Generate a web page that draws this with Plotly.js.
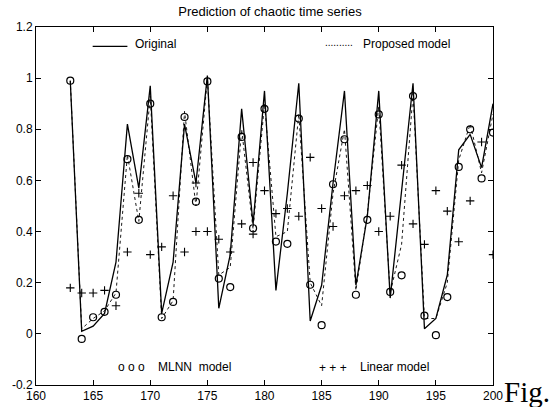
<!DOCTYPE html>
<html>
<head>
<meta charset="utf-8">
<script src="https://cdn.plot.ly/plotly-3.0.1.min.js"></script>
<style>html,body{margin:0;padding:0;background:#fff;}#chart{width:559px;height:407px;}</style>
</head>
<body>
<div id="chart"></div>
<script>
// time steps
var steps = [163,164,165,166,167,168,169,170,171,172,173,174,175,176,177,178,179,180,181,182,183,184,185,186,187,188,189,190,191,192,193,194,195,196,197,198,199,200];
// original series (solid)
var original = [0.99,0.01,0.03,0.08,0.28,0.82,0.57,0.97,0.08,0.28,0.82,0.59,1.01,0.10,0.31,0.88,0.43,0.95,0.17,0.55,0.98,0.05,0.19,0.59,0.95,0.19,0.46,0.95,0.14,0.55,0.98,0.02,0.06,0.23,0.72,0.78,0.65,0.90];
// proposed model (dotted)
var proposed = [0.99,0.02,0.06,0.09,0.16,0.70,0.44,0.93,0.06,0.13,0.87,0.50,1.00,0.23,0.26,0.80,0.41,0.90,0.38,0.40,0.86,0.20,0.11,0.55,0.80,0.17,0.47,0.89,0.16,0.35,0.94,0.06,0.06,0.20,0.68,0.82,0.63,0.86];
// MLNN model (circles)
var mlnn = [0.99,-0.02,0.065,0.086,0.153,0.683,0.446,0.90,0.065,0.125,0.848,0.517,0.987,0.216,0.183,0.77,0.413,0.88,0.361,0.352,0.842,0.192,0.034,0.585,0.761,0.153,0.446,0.858,0.164,0.229,0.93,0.071,-0.005,0.144,0.653,0.80,0.608,0.787];
// linear model (pluses)
var linSteps = [163,164,165,166,167,168,169,170,171,172,173,174,174,175,176,177,178,179,179,180,181,182,183,184,185,186,187,188,189,190,191,192,193,194,195,196,197,198,199,200];
var linear = [0.18,0.16,0.16,0.17,0.11,0.32,0.55,0.31,0.34,0.54,0.32,0.59,0.40,0.40,0.37,0.32,0.43,0.67,0.39,0.56,0.47,0.49,0.46,0.69,0.49,0.42,0.54,0.56,0.58,0.40,0.46,0.66,0.43,0.35,0.56,0.48,0.36,0.52,0.75,0.31];
// tick labels
var xTicks = [160,165,170,175,180,185,190,195,200];
var yTicks = [-0.2,0,0.2,0.4,0.6,0.8,1,1.2];
var yTickText = ['-0.2','0','0.2','0.4','0.6','0.8','1','1.2'];

var traces = [
  {x: steps, y: original, mode: 'lines', line: {color: '#000', width: 1.3}, name: 'Original'},
  {x: steps, y: proposed, mode: 'lines', line: {color: '#000', width: 0.9, dash: 'dot'}, name: 'Proposed model'},
  {x: steps, y: mlnn, mode: 'markers', marker: {symbol: 'circle-open', size: 7, color: '#000', line: {width: 1.2, color: '#000'}}, name: 'MLNN model'},
  {x: linSteps, y: linear, mode: 'markers', marker: {symbol: 'cross-thin-open', size: 6, color: '#000', line: {width: 1.1, color: '#000'}}, name: 'Linear model'}
];

var axisFont = {family: 'Liberation Sans, Arial, sans-serif', size: 12, color: '#000'};
var layout = {
  width: 559, height: 407,
  margin: {l: 36, r: 66, t: 27, b: 22},
  paper_bgcolor: '#fff', plot_bgcolor: '#fff',
  showlegend: false,
  title: {text: 'Prediction of chaotic time series', font: {family: 'Liberation Sans, Arial, sans-serif', size: 13, color: '#000'}, x: 0.483, xanchor: 'center', y: 0.972, yanchor: 'middle'},
  xaxis: {range: [160, 200], tickvals: xTicks, ticktext: xTicks.map(String), ticks: 'inside', ticklen: 5, tickcolor: '#000',
          showline: true, linecolor: '#000', linewidth: 1, mirror: 'ticks', showgrid: false, zeroline: false, tickfont: axisFont},
  yaxis: {range: [-0.2, 1.2], tickvals: yTicks, ticktext: yTickText, ticks: 'inside', ticklen: 5, tickcolor: '#000',
          showline: true, linecolor: '#000', linewidth: 1, mirror: 'ticks', showgrid: false, zeroline: false, tickfont: axisFont},
  shapes: [
    {type: 'line', xref: 'paper', yref: 'paper', x0: 0.124, x1: 0.200, y0: 0.946, y1: 0.946, line: {color: '#000', width: 1.2}}
  ],
  annotations: [
    {text: 'Original', xref: 'paper', yref: 'paper', x: 0.212, y: 0.952, xanchor: 'left', yanchor: 'middle', showarrow: false, font: axisFont},
    {text: '..........', xref: 'paper', yref: 'paper', x: 0.627, y: 0.958, xanchor: 'left', yanchor: 'middle', showarrow: false, font: {family: 'Liberation Sans, Arial, sans-serif', size: 10, color: '#000'}},
    {text: 'Proposed model', xref: 'paper', yref: 'paper', x: 0.711, y: 0.952, xanchor: 'left', yanchor: 'middle', showarrow: false, font: axisFont},
    {text: 'o o o', xref: 'paper', yref: 'paper', x: 0.176, y: 0.05, xanchor: 'left', yanchor: 'middle', showarrow: false, font: axisFont},
    {text: 'MLNN  model', xref: 'paper', yref: 'paper', x: 0.262, y: 0.05, xanchor: 'left', yanchor: 'middle', showarrow: false, font: axisFont},
    {text: '+ + +', xref: 'paper', yref: 'paper', x: 0.614, y: 0.048, xanchor: 'left', yanchor: 'middle', showarrow: false, font: axisFont},
    {text: 'Linear model', xref: 'paper', yref: 'paper', x: 0.705, y: 0.05, xanchor: 'left', yanchor: 'middle', showarrow: false, font: axisFont},
    {text: 'Fig.', xref: 'paper', yref: 'paper', x: 1.02, y: -0.02, xanchor: 'left', yanchor: 'middle', showarrow: false,
     font: {family: 'Liberation Serif, DejaVu Serif, serif', size: 29, color: '#000'}}
  ]
};
Plotly.newPlot('chart', traces, layout, {staticPlot: true, displayModeBar: false});
</script>
</body>
</html>
